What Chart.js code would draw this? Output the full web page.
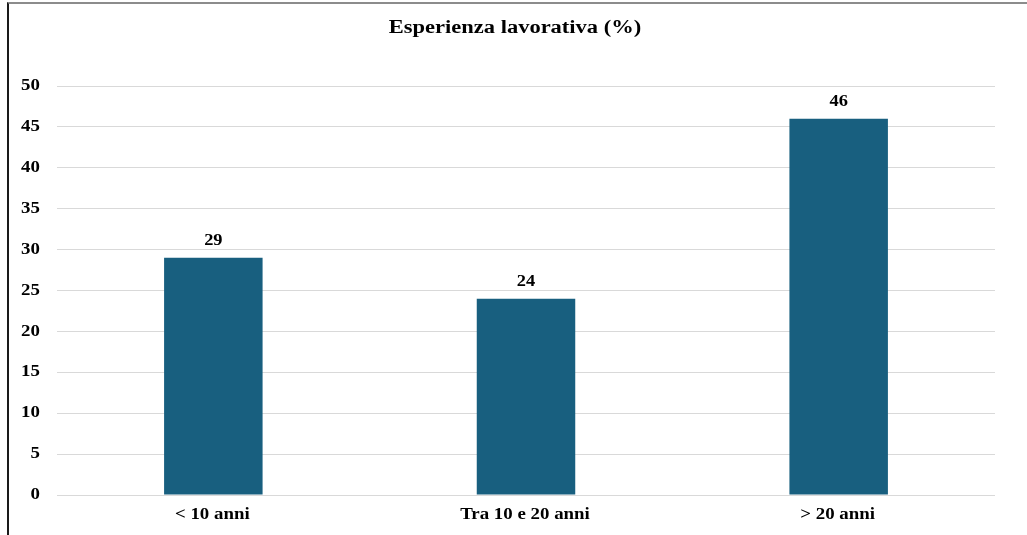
<!DOCTYPE html>
<html>
<head>
<meta charset="utf-8">
<script src="https://cdn.jsdelivr.net/npm/chart.js@4.4.1/dist/chart.umd.min.js"></script>
<style>
  html, body { margin: 0; padding: 0; background: #fff; }
  #frame {
    position: absolute; left: 7px; top: 2px;
    width: 1020px; height: 533px;
    border-top: 2px solid #8c8c8c;
    border-left: 2px solid #1a1a1a;
  }
  #wrap { position: absolute; left: 0; top: 0; width: 1018px; height: 531px; }
</style>
</head>
<body>
<div id="frame"><div id="wrap"><canvas id="chart"></canvas></div></div>
<script>
// Anni di esperienza lavorativa, quota percentuale per fascia
const chartTitle = 'Esperienza lavorativa (%)';
const categories = ['< 10 anni', 'Tra 10 e 20 anni', '> 20 anni'];
const percentages = [29, 24, 46];
const yTicks = [0, 5, 10, 15, 20, 25, 30, 35, 40, 45, 50];

const serif = '"Liberation Serif", "Times New Roman", serif';

// Testo in grassetto con glifi leggermente allargati in orizzontale
function wideText(ctx, text, x, y, size, align, stretch) {
  ctx.save();
  ctx.font = 'bold ' + size + 'px ' + serif;
  ctx.fillStyle = '#000';
  ctx.textBaseline = 'middle';
  ctx.textAlign = align;
  ctx.translate(x, y);
  ctx.scale(stretch, 1);
  ctx.fillText(text, 0, 0);
  ctx.restore();
}

// Titolo, etichette degli assi e valori sopra le barre
const textLayer = {
  id: 'textLayer',
  afterDraw(chart) {
    const { ctx, scales, chartArea } = chart;
    const xs = scales.x, ys = scales.y;
    wideText(ctx, chartTitle, chart.width / 2 - 3, 24, 18, 'center', 1.25);
    yTicks.forEach(v => {
      wideText(ctx, String(v), chartArea.left - 17, ys.getPixelForValue(v), 16, 'right', 1.18);
    });
    categories.forEach((c, i) => {
      wideText(ctx, c, xs.getPixelForValue(i) - 1, chartArea.bottom + 20, 16, 'center', 1.18);
    });
    chart.getDatasetMeta(0).data.forEach((bar, i) => {
      wideText(ctx, String(percentages[i]), bar.x, bar.y - 17, 16, 'center', 1.15);
    });
  }
};

new Chart(document.getElementById('chart'), {
  type: 'bar',
  data: {
    labels: categories,
    datasets: [{
      data: percentages,
      backgroundColor: '#185f7f',
      borderWidth: 0,
      barPercentage: 0.315,
      categoryPercentage: 1
    }]
  },
  options: {
    responsive: true,
    maintainAspectRatio: false,
    animation: false,
    layout: { padding: { left: 0, right: 32, top: 82, bottom: 0 } },
    plugins: {
      legend: { display: false },
      tooltip: { enabled: false },
      title: { display: false }
    },
    scales: {
      x: {
        grid: { display: false, drawTicks: false },
        border: { display: false },
        ticks: { display: false },
        afterFit(scale) { scale.height = 40; }
      },
      y: {
        min: 0,
        max: 50,
        afterBuildTicks(scale) { scale.ticks = yTicks.map(v => ({ value: v })); },
        grid: { color: '#d9d9d9', lineWidth: 1, drawTicks: false },
        border: { display: false },
        ticks: { display: false },
        afterFit(scale) { scale.width = 48; }
      }
    }
  },
  plugins: [textLayer]
});
</script>
</body>
</html>
